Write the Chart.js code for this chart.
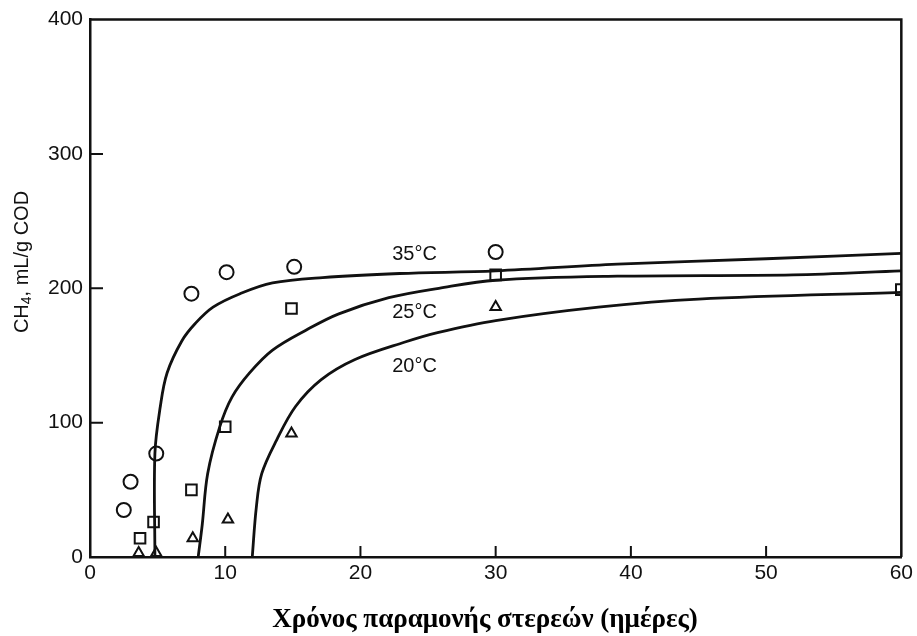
<!DOCTYPE html>
<html>
<head>
<meta charset="utf-8">
<script src="https://cdn.jsdelivr.net/npm/chart.js@4.4.0/dist/chart.umd.min.js"></script>
<style>
  html, body { margin: 0; padding: 0; background: #fff; }
  canvas { display: block; }
</style>
</head>
<body>
<canvas id="ch4-chart" width="917" height="636"></canvas>
<script>
// axis ticks
const xTicks = [0, 10, 20, 30, 40, 50, 60];
const yTicks = [0, 100, 200, 300, 400];

// fitted curves: solids retention time (days) -> CH4 (mL/g COD)
const curve35Days = [4.8, 4.8, 5.2, 5.7, 6.8, 7.8, 9.1, 11.1, 13.5, 17.2, 22.9, 30, 39, 50, 60];
const curve35Ch4  = [0, 77, 112, 137, 161, 174, 186, 196, 204, 208, 211, 213, 218, 222, 226];
const curve25Days = [8.0, 8.3, 8.7, 9.6, 10.5, 11.8, 13.5, 16.0, 18.4, 22.1, 25.8, 30, 39, 52, 60];
const curve25Ch4  = [0, 24, 62, 97, 119, 137, 154, 169, 181, 193, 200, 206, 209, 210, 213];
const curve20Days = [12.0, 12.3, 12.7, 13.8, 15.2, 17.1, 19.6, 23.3, 25.7, 30, 37.6, 45, 60];
const curve20Ch4  = [0, 37, 62, 87, 112, 132, 147, 160, 167, 176, 186, 192, 197];

// measured points
const obs35Days = [2.5, 3.0, 4.9, 7.5, 10.1, 15.1, 30];
const obs35Ch4  = [35, 56, 77, 196, 212, 216, 227];
const obs25Days = [3.7, 4.7, 7.5, 10.0, 14.9, 30, 60];
const obs25Ch4  = [14, 26, 50, 97, 185, 210, 199];
const obs20Days = [3.6, 4.9, 7.6, 10.2, 14.9, 30];
const obs20Ch4  = [3, 3, 14, 28, 92, 186];

const curveNames = ['35°C', '25°C', '20°C'];

const toXY = (xs, ys) => xs.map((v, i) => ({ x: v, y: ys[i] }));

const ink = '#111';
const sans = '"Liberation Sans", Arial, sans-serif';

function curve(label, xs, ys) {
  return {
    label: label,
    data: toXY(xs, ys),
    showLine: true,
    borderColor: ink,
    borderWidth: 2.8,
    pointRadius: 0,
    tension: 0.35,
    fill: false
  };
}

function marks(label, xs, ys, style, r) {
  return {
    label: label,
    data: toXY(xs, ys),
    showLine: false,
    pointStyle: style,
    pointRadius: r,
    pointBorderWidth: 2,
    pointBorderColor: ink,
    pointBackgroundColor: 'rgba(0,0,0,0)'
  };
}

// where the curve names sit, in data units
const curveNameAt = [[24, 225], [24, 182], [24, 142]];

const decorations = {
  id: 'decorations',
  afterDraw(chart) {
    const { ctx, chartArea: a, scales: { x, y } } = chart;
    ctx.save();
    ctx.strokeStyle = ink;
    ctx.lineWidth = 2.5;
    ctx.beginPath();
    ctx.moveTo(a.left, a.top);
    ctx.lineTo(a.right, a.top);
    ctx.lineTo(a.right, a.bottom);
    ctx.stroke();

    // inward tick marks
    ctx.lineWidth = 2;
    ctx.beginPath();
    xTicks.slice(1, -1).forEach(v => {
      const px = x.getPixelForValue(v);
      ctx.moveTo(px, a.bottom);
      ctx.lineTo(px, a.bottom - 11);
    });
    yTicks.slice(1, -1).forEach(v => {
      const py = y.getPixelForValue(v);
      ctx.moveTo(a.left, py);
      ctx.lineTo(a.left + 13, py);
    });
    ctx.stroke();

    ctx.fillStyle = ink;
    ctx.font = '20px ' + sans;
    ctx.textAlign = 'center';
    ctx.textBaseline = 'middle';
    curveNames.forEach((t, i) => {
      ctx.fillText(t, x.getPixelForValue(curveNameAt[i][0]), y.getPixelForValue(curveNameAt[i][1]));
    });

    // x title
    ctx.fillStyle = '#000';
    ctx.font = 'bold 27px "Liberation Serif", "Times New Roman", serif';
    ctx.fillText('Χρόνος παραμονής στερεών (ημέρες)', 485, 620);

    // y title, rotated, with subscript 4
    ctx.translate(22, 262);
    ctx.rotate(-Math.PI / 2);
    ctx.fillStyle = ink;
    ctx.textAlign = 'left';
    ctx.textBaseline = 'middle';
    const big = '20px ' + sans, small = '14px ' + sans;
    ctx.font = big;
    const w1 = ctx.measureText('CH').width;
    const w3 = ctx.measureText(', mL/g COD').width;
    ctx.font = small;
    const w2 = ctx.measureText('4').width;
    let cx = -(w1 + w2 + w3) / 2;
    ctx.font = big;
    ctx.fillText('CH', cx, 0);
    cx += w1;
    ctx.font = small;
    ctx.fillText('4', cx, 5);
    cx += w2;
    ctx.font = big;
    ctx.fillText(', mL/g COD', cx, 0);
    ctx.restore();
  }
};

new Chart(document.getElementById('ch4-chart'), {
  type: 'scatter',
  data: {
    datasets: [
      curve(curveNames[0], curve35Days, curve35Ch4),
      curve(curveNames[1], curve25Days, curve25Ch4),
      curve(curveNames[2], curve20Days, curve20Ch4),
      marks('35°C data', obs35Days, obs35Ch4, 'circle', 7),
      marks('25°C data', obs25Days, obs25Ch4, 'rect', 7.5),
      marks('20°C data', obs20Days, obs20Ch4, 'triangle', 6)
    ]
  },
  options: {
    responsive: false,
    animation: false,
    devicePixelRatio: 1,
    layout: { padding: { left: 0, top: 19, right: 11, bottom: 0 } },
    plugins: { legend: { display: false }, tooltip: { enabled: false } },
    scales: {
      x: {
        type: 'linear',
        min: 0,
        max: 60,
        afterBuildTicks: s => { s.ticks = xTicks.map(v => ({ value: v })); },
        afterFit: s => { s.height = 79; },
        grid: { display: false, drawTicks: false },
        border: { display: true, color: ink, width: 2.5 },
        ticks: { color: ink, font: { family: sans, size: 21 }, padding: 4, maxRotation: 0 }
      },
      y: {
        type: 'linear',
        min: 0,
        max: 400,
        afterBuildTicks: s => { s.ticks = yTicks.map(v => ({ value: v })); },
        afterFit: s => { s.width = 90; },
        grid: { display: false, drawTicks: false },
        border: { display: true, color: ink, width: 2.5 },
        ticks: { color: ink, font: { family: sans, size: 21 }, padding: 7 }
      }
    }
  },
  plugins: [decorations]
});
</script>
</body>
</html>
